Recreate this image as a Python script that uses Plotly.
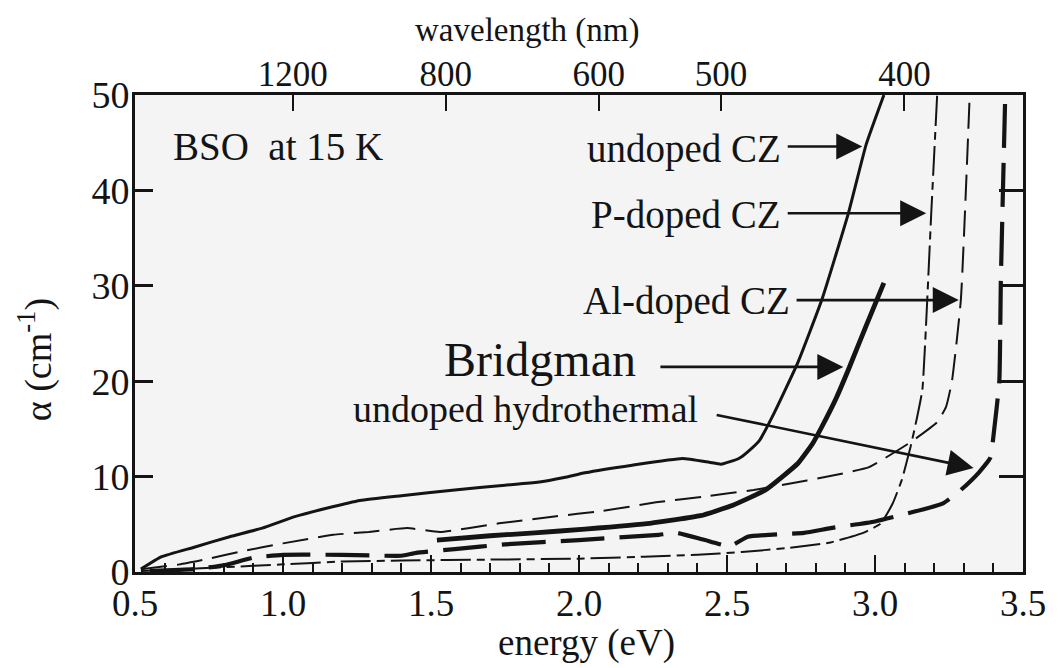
import plotly.graph_objects as go

FONT = "Liberation Serif, Times New Roman, serif"
INK = "#141414"

# ---------------- data (energy in eV, absorption alpha in cm^-1) ----------------
undoped_cz_E = [0.52, 0.59, 0.70, 0.82, 0.93, 1.04, 1.15, 1.26, 1.40, 1.58, 1.75, 1.86, 1.95,
                2.02, 2.18, 2.35, 2.44, 2.48, 2.54, 2.57, 2.61, 2.66, 2.74, 2.82, 2.91, 2.97, 3.03]
undoped_cz_a = [0.3, 1.6, 2.6, 3.7, 4.6, 5.8, 6.7, 7.5, 8.0, 8.6, 9.1, 9.4, 9.9,
                10.4, 11.2, 11.9, 11.5, 11.3, 11.9, 12.6, 13.8, 16.7, 22.0, 28.5, 37.6, 44.8, 50.0]

bridgman_E = [1.52, 1.70, 1.85, 2.02, 2.24, 2.41, 2.52, 2.63, 2.74, 2.79, 2.82, 2.87, 2.91, 2.97, 3.03]
bridgman_a = [3.35, 3.8, 4.1, 4.5, 5.1, 5.9, 7.0, 8.6, 11.4, 13.5, 15.2, 18.3, 21.2, 25.8, 30.3]

al_doped_E = [0.52, 0.65, 0.75, 0.85, 1.00, 1.17, 1.29, 1.42, 1.53, 1.73, 1.91, 2.08, 2.26, 2.42,
              2.59, 2.77, 2.84, 2.98, 3.12, 3.21, 3.24, 3.26, 3.29, 3.32]
al_doped_a = [0.3, 0.8, 1.4, 2.1, 3.0, 3.9, 4.2, 4.6, 4.2, 5.1, 5.8, 6.4, 7.3, 7.9,
              8.6, 9.6, 10.0, 11.0, 13.6, 15.7, 17.3, 20.0, 28.5, 50.0]

p_doped_E = [0.52, 0.80, 1.00, 1.20, 1.40, 1.70, 2.00, 2.22, 2.40, 2.55, 2.70, 2.85, 2.96,
             3.02, 3.06, 3.09, 3.12, 3.14, 3.16, 3.19, 3.21]
p_doped_a = [0.1, 0.5, 0.8, 1.1, 1.2, 1.3, 1.4, 1.6, 1.8, 2.1, 2.5, 3.1, 4.1,
             5.1, 7.2, 9.6, 13.1, 15.9, 19.1, 37.6, 50.0]

hydro_E = [0.55, 0.70, 0.80, 0.90, 1.00, 1.20, 1.40, 1.45, 1.58, 1.75, 2.00, 2.27, 2.33, 2.42,
           2.51, 2.57, 2.76, 2.85, 3.00, 3.23, 3.29, 3.35, 3.39, 3.40, 3.42, 3.425, 3.44]
hydro_a = [0.1, 0.3, 0.7, 1.5, 1.8, 1.8, 1.7, 2.0, 2.4, 2.9, 3.35, 3.9, 4.1, 3.4,
           2.7, 3.7, 4.1, 4.6, 5.3, 7.2, 8.6, 10.4, 12.0, 14.2, 20.0, 30.3, 50.0]

energy_ticks = [0.5, 1.0, 1.5, 2.0, 2.5, 3.0, 3.5]
energy_labels = ["0.5", "1.0", "1.5", "2.0", "2.5", "3.0", "3.5"]
wavelength_ticks = [1200, 800, 600, 500, 400]
alpha_ticks = [0, 10, 20, 30, 40, 50]
HC = 1239.84  # eV*nm

# ---------------- figure ----------------
fig = go.Figure()

def add(E, a, width, dash):
    fig.add_trace(go.Scatter(x=E, y=a, mode="lines", hoverinfo="skip",
                             line=dict(color=INK, width=width, dash=dash,
                                       shape="spline", smoothing=0.4)))

add(hydro_E, hydro_a, 4.2, "44px,15px")
add(p_doped_E, p_doped_a, 2.0, "30px,6px,8px,6px")
add(al_doped_E, al_doped_a, 2.0, "26px,10px")
add(bridgman_E, bridgman_a, 4.8, "solid")
add(undoped_cz_E, undoped_cz_a, 3.0, "solid")

# invisible trace to carry the mirrored (top/right) axes
fig.add_trace(go.Scatter(x=[None], y=[None], xaxis="x2", yaxis="y2", showlegend=False,
                         hoverinfo="skip"))

axis_font = dict(family=FONT, size=37, color=INK)

fig.update_layout(
    width=1058, height=668,
    margin=dict(l=135, r=23, t=95, b=96),
    paper_bgcolor="white", plot_bgcolor="#f4f4f4",
    showlegend=False,
    font=dict(family=FONT, color=INK),
    xaxis=dict(range=[0.5, 3.5], tickmode="array", tickvals=energy_ticks, ticktext=energy_labels,
               ticks="inside", ticklen=17, tickwidth=2, tickcolor=INK,
               showline=True, linewidth=3, linecolor=INK, mirror=False,
               showgrid=False, zeroline=False, tickfont=axis_font, ticklabelstandoff=-3,
               ticklabeloverflow="allow",
               minor=dict(ticks="inside", ticklen=9, tickwidth=1.5, tickcolor=INK,
                          dtick=0.1, showgrid=False)),
    xaxis2=dict(range=[0.5, 3.5], overlaying="x", side="top", anchor="y",
                tickmode="array", tickvals=[HC / w for w in wavelength_ticks],
                ticktext=[str(w) for w in wavelength_ticks],
                ticks="inside", ticklen=16, tickwidth=2, tickcolor=INK,
                showline=True, linewidth=3, linecolor=INK, ticklabelstandoff=-8,
                ticklabeloverflow="allow",
                showgrid=False, zeroline=False, tickfont=dict(family=FONT, size=35, color=INK)),
    yaxis=dict(range=[0, 50], tickmode="array", tickvals=alpha_ticks,
               ticks="inside", ticklen=18, tickwidth=3, tickcolor=INK,
               showline=True, linewidth=3, linecolor=INK, mirror=False, ticklabelstandoff=-5,
               ticklabeloverflow="allow",
               showgrid=False, zeroline=False, tickfont=dict(family=FONT, size=38, color=INK)),
    yaxis2=dict(range=[0, 50], overlaying="y", side="right", anchor="x",
                tickmode="array", tickvals=alpha_ticks, showticklabels=False,
                ticks="inside", ticklen=24, tickwidth=3, tickcolor=INK,
                showline=True, linewidth=3, linecolor=INK,
                showgrid=False, zeroline=False),
)

ann = []
# axis titles
ann.append(dict(text="energy (eV)", xref="paper", yref="paper", x=0.508, y=-0.149,
                xanchor="center", yanchor="middle", showarrow=False,
                font=dict(family=FONT, size=37, color=INK)))
ann.append(dict(text="wavelength (nm)", xref="paper", yref="paper", x=0.442, y=1.136,
                xanchor="center", yanchor="middle", showarrow=False,
                font=dict(family=FONT, size=33, color=INK)))
ann.append(dict(text="α (cm<sup>-1</sup>)", xref="paper", yref="paper", x=-0.112, y=0.445,
                xanchor="center", yanchor="middle", showarrow=False, textangle=-90,
                font=dict(family=FONT, size=38, color=INK)))
# in-plot label
ann.append(dict(text="BSO  at 15 K", xref="x", yref="y", x=0.62, y=44.6,
                xanchor="left", yanchor="middle", showarrow=False,
                font=dict(family=FONT, size=39, color=INK)))

labels = [
    # text, text right x, text y, arrow tail (x, y), arrow tip (x, y), size
    ("undoped CZ", 2.69, 44.3, (2.70, 44.6), (2.957, 44.6), 39),
    ("P-doped CZ", 2.69, 37.4, (2.70, 37.6), (3.173, 37.6), 39),
    ("Al-doped CZ", 2.72, 28.4, (2.73, 28.5), (3.283, 28.5), 39),
    ("Bridgman", 2.20, 22.3, (2.27, 21.5), (2.893, 21.5), 48),
    ("undoped hydrothermal", 2.41, 17.1, (2.46, 16.5), (3.333, 10.9), 38),
]
for text, tx, ty, tail, tip, size in labels:
    ann.append(dict(text=text, xref="x", yref="y", x=tx, y=ty, xanchor="right",
                    yanchor="middle", showarrow=False,
                    font=dict(family=FONT, size=size, color=INK)))
    ann.append(dict(text="", xref="x", yref="y", x=tip[0], y=tip[1],
                    axref="x", ayref="y", ax=tail[0], ay=tail[1],
                    showarrow=True, arrowhead=2, arrowsize=2.0, arrowwidth=2.6,
                    arrowcolor=INK, standoff=0, startstandoff=0))

fig.update_layout(annotations=ann)

fig.write_html("out.html")
